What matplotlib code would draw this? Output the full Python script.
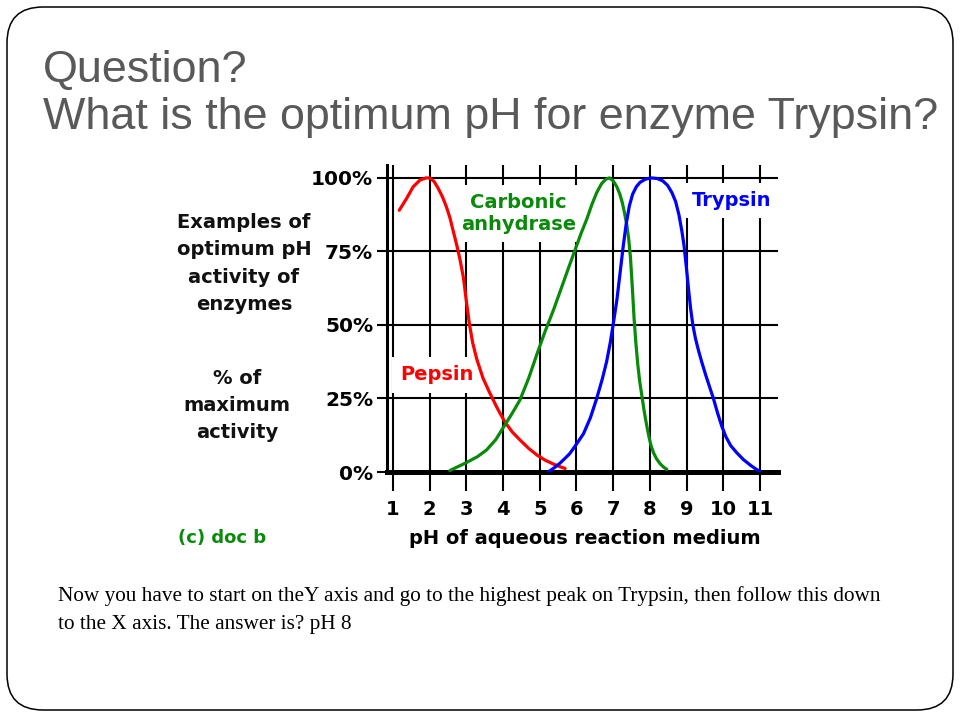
import matplotlib
matplotlib.use("Agg")
import matplotlib.pyplot as plt
from matplotlib.patches import FancyBboxPatch

# ---------------- data ----------------
pepsin_ph = [1.17, 1.37, 1.55, 1.74, 1.9, 2.0, 2.12, 2.23, 2.35, 2.46, 2.55, 2.64, 2.74, 2.83,
             2.92, 3.0, 3.08, 3.17, 3.28, 3.45, 3.64, 3.85, 4.05, 4.25, 4.46, 4.7, 4.92, 5.15,
             5.37, 5.55, 5.69]
pepsin_act = [89, 93, 97, 99.3, 100, 100, 98.8, 96.5, 93.5, 90, 86.5, 82, 77, 72,
              66, 58, 50.5, 44, 38.5, 32, 26.8, 21.5, 17, 13.6, 10.9, 8, 5.8, 4,
              2.7, 1.8, 1.2]

carbonic_ph = [2.55, 2.8, 3.0, 3.3, 3.55, 3.8, 4.05, 4.25, 4.46, 4.7, 4.92, 5.15, 5.37, 5.6,
               5.8, 5.96, 6.12, 6.28, 6.42, 6.55, 6.68, 6.8, 6.9, 7.0, 7.1, 7.18, 7.25, 7.31,
               7.37, 7.42, 7.47, 7.52, 7.57, 7.62, 7.67, 7.72, 7.78, 7.84, 7.91, 7.97, 8.03,
               8.1, 8.18, 8.28, 8.37, 8.46]
carbonic_act = [0.5, 2, 3.2, 5.2, 7.5, 11, 16, 20, 24.5, 32, 40, 48, 55, 63,
                70, 75.5, 81, 86, 91, 95, 98, 99.6, 100, 99, 97, 94.5, 91.5, 88,
                84, 79.5, 73, 63, 52, 43.5, 36.5, 31, 26, 21, 16, 12.2, 9,
                6.5, 4.5, 2.8, 1.7, 0.9]

trypsin_ph = [5.23, 5.4, 5.55, 5.7, 5.82, 6.0, 6.19, 6.38, 6.55, 6.7, 6.82, 6.92, 7.0, 7.1,
              7.19, 7.27, 7.35, 7.44, 7.53, 7.63, 7.73, 7.88, 8.05, 8.2, 8.35, 8.48, 8.6, 8.7,
              8.79, 8.87, 8.93, 8.99, 9.05, 9.11, 9.17, 9.24, 9.32, 9.41, 9.52, 9.63, 9.73,
              9.85, 9.96, 10.07, 10.2, 10.37, 10.55, 10.75, 10.9, 11.0]
trypsin_act = [0, 1.5, 3, 4.8, 6.3, 9.5, 13, 18.5, 25, 31.5, 37.5, 44, 50.2, 58.5,
               68, 76.5, 84, 90.5, 94.5, 97, 98.5, 99.6, 100, 99.8, 99, 97.5, 95, 92,
               87.5, 82, 77, 70, 62.5, 55.5, 50, 45.5, 41.5, 37.5, 33, 28.8, 25,
               19.8, 15.5, 12, 9, 6.5, 4.2, 2.2, 0.9, 0.2]

x_ticks = list(range(1, 12))
y_ticks = [0, 25, 50, 75, 100]
y_tick_labels = ["0%", "25%", "50%", "75%", "100%"]

title_lines = ["Question?", "What is the optimum pH for enzyme Trypsin?"]
body_lines = ["Now you have to start on theY axis and go to the highest peak on Trypsin, then follow this down",
              "to the X axis. The answer is? pH 8"]

RED = "#ff0000"
GREEN = "#0a8a0a"
BLUE = "#0000ff"
GRAY = "#595959"

W, H = 960, 720
fig = plt.figure(figsize=(9.6, 7.2), dpi=100)

# background / slide frame (pixel coordinates)
bg = fig.add_axes([0, 0, 1, 1], zorder=-10)
bg.set_xlim(0, W)
bg.set_ylim(H, 0)
bg.axis("off")
bg.add_patch(FancyBboxPatch((7, 7), 946, 703, boxstyle="round,pad=0,rounding_size=36",
                            fill=False, ec="black", lw=1.1))

def fx(px):
    return px / W

def fy(py):
    return 1 - py / H

# title
title_font = ["Liberation Sans", "DejaVu Sans"]
fig.text(fx(43), fy(70), title_lines[0], fontsize=32.3, color=GRAY, family=title_font,
         ha="left", va="center")
fig.text(fx(43), fy(117), title_lines[1], fontsize=32.3, color=GRAY, family=title_font,
         ha="left", va="center")

# body text
fig.text(fx(58), fy(596), body_lines[0], fontsize=15.3, color="black", family="Liberation Serif",
         ha="left", va="center")
fig.text(fx(58), fy(624), body_lines[1], fontsize=15.3, color="black", family="Liberation Serif",
         ha="left", va="center")

# chart axes
left_px, right_px, top_px, bot_px = 387, 778, 165, 472
ax = fig.add_axes([fx(left_px), fy(bot_px), (right_px - left_px) / W, (bot_px - top_px) / H])
ax.set_xlim(0.837, 11.49)
ax.set_ylim(0, 104.4)
ax.set_axisbelow(True)
ax.grid(True, color="black", lw=1.5)
for s in ["top", "right"]:
    ax.spines[s].set_visible(False)
ax.spines["left"].set_linewidth(2.2)
ax.spines["bottom"].set_linewidth(3.6)
ax.set_xticks(x_ticks)
ax.set_yticks(y_ticks)
ax.set_yticklabels(y_tick_labels)
ax.tick_params(axis="x", length=14, width=1.5, pad=6, labelsize=14)
ax.tick_params(axis="y", length=7, width=1.5, pad=3, labelsize=14.5)
for lab in ax.get_xticklabels() + ax.get_yticklabels():
    lab.set_fontweight("bold")
    lab.set_family("DejaVu Sans")

line_kw = dict(lw=2.3, zorder=4, solid_joinstyle="round", solid_capstyle="round")
ax.plot(pepsin_ph, pepsin_act, color=RED, **line_kw)
ax.plot(carbonic_ph, carbonic_act, color=GREEN, **line_kw)
ax.plot(trypsin_ph, trypsin_act, color=BLUE, **line_kw)

box = dict(facecolor="white", edgecolor="none", pad=6)
ax.text(4.42, 88.0, "Carbonic\nanhydrase", color=GREEN, fontsize=14, fontweight="bold",
        ha="center", va="center", linespacing=1.17, bbox=box, zorder=3)
ax.text(10.24, 92.3, "Trypsin", color=BLUE, fontsize=14, fontweight="bold",
        ha="center", va="center", bbox=box, zorder=3)
ax.text(2.21, 33.0, "Pepsin", color=RED, fontsize=14, fontweight="bold",
        ha="center", va="center", bbox=box, zorder=3)

ax.set_xlabel("pH of aqueous reaction medium", fontsize=14, fontweight="bold", va="center")
ax.xaxis.set_label_coords((585 - left_px) / (right_px - left_px), -(538 - bot_px) / (bot_px - top_px))

# left side descriptive texts
fig.text(fx(244), fy(263.5), "Examples of\noptimum pH\nactivity of\nenzymes", fontsize=14,
         fontweight="bold", ha="center", va="center", linespacing=1.55, color="#111111")
fig.text(fx(237), fy(405.5), "% of\nmaximum\nactivity", fontsize=14,
         fontweight="bold", ha="center", va="center", linespacing=1.55, color="#111111")
fig.text(fx(178), fy(538), "(c) doc b", fontsize=13, fontweight="bold", ha="left", va="center",
         color=GREEN)

fig.savefig("out.png", dpi=100)
